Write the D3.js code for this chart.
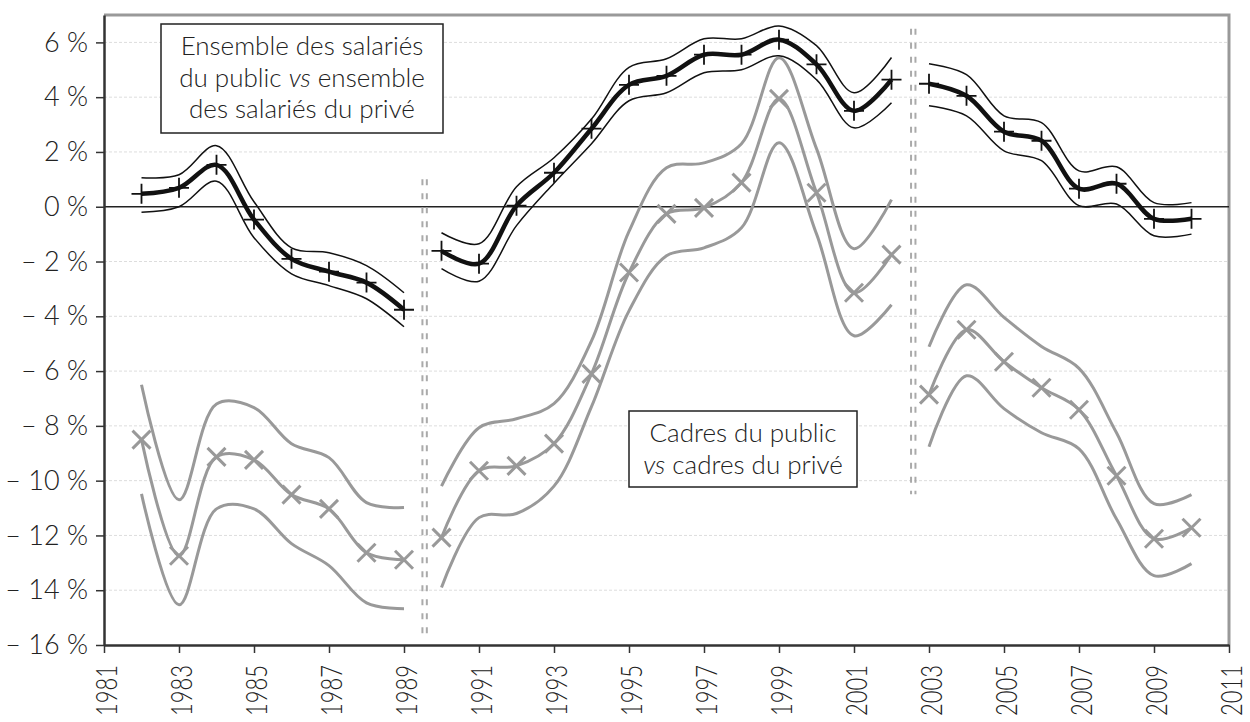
<!DOCTYPE html>
<html>
<head>
<meta charset="utf-8">
<script src="https://cdn.jsdelivr.net/npm/d3@7"></script>
<style>
  body { margin: 0; background: #fff; }
  svg text { font-family: Lato, "Open Sans", sans-serif; font-weight: 300; fill: #222; }
</style>
</head>
<body>
<div id="chart"></div>
<script>
// three periods, each drawn as its own set of lines
const segYears = [
  [1982, 1983, 1984, 1985, 1986, 1987, 1988, 1989],
  [1990, 1991, 1992, 1993, 1994, 1995, 1996, 1997, 1998, 1999, 2000, 2001, 2002],
  [2003, 2004, 2005, 2006, 2007, 2008, 2009, 2010]
];

// Ensemble des salariés du public vs privé (central estimate and band)
const ensMid = [
  [0.47, 0.69, 1.53, -0.47, -1.9, -2.37, -2.77, -3.76],
  [-1.61, -2.08, 0.04, 1.24, 2.85, 4.45, 4.78, 5.55, 5.55, 6.1, 5.2, 3.5, 4.64],
  [4.49, 4.05, 2.74, 2.41, 0.66, 0.84, -0.44, -0.44]
];
const ensUp = [
  [1.06, 1.17, 2.23, 0.18, -1.5, -1.68, -2.15, -3.14],
  [-0.95, -1.35, 0.73, 1.79, 3.2, 5.09, 5.4, 6.13, 6.13, 6.6, 5.88, 4.16, 5.45],
  [5.22, 4.82, 3.32, 3.07, 1.31, 1.46, 0.15, 0.15]
];
const ensLo = [
  [-0.2, 0.0, 0.93, -1.13, -2.45, -2.88, -3.36, -4.38],
  [-2.26, -2.72, -0.69, 0.86, 2.3, 3.87, 4.16, 4.89, 5.0, 5.51, 4.64, 2.88, 3.8],
  [3.69, 3.32, 2.04, 1.68, 0.04, 0.1, -1.06, -1.0]
];

// Cadres du public vs cadres du privé
const cadMid = [
  [-8.5, -12.74, -9.13, -9.24, -10.51, -11.03, -12.63, -12.89],
  [-12.08, -9.64, -9.46, -8.65, -6.1, -2.4, -0.26, -0.04, 0.88, 3.94, 0.51, -3.14, -1.75],
  [-6.86, -4.49, -5.66, -6.61, -7.41, -9.82, -12.12, -11.72]
];
const cadUp = [
  [-6.5, -10.7, -7.2, -7.33, -8.65, -9.16, -10.8, -10.98],
  [-10.2, -8.07, -7.74, -7.19, -4.9, -0.9, 1.42, 1.6, 2.3, 5.44, 2.12, -1.53, 0.26],
  [-5.11, -2.85, -4.04, -5.1, -5.9, -8.25, -10.84, -10.51]
];
const cadLo = [
  [-10.48, -14.53, -11.03, -11.03, -12.3, -13.1, -14.46, -14.68],
  [-13.9, -11.35, -11.2, -10.2, -7.3, -3.8, -1.79, -1.5, -0.77, 2.34, -0.99, -4.71, -3.58],
  [-8.76, -6.17, -7.37, -8.25, -8.84, -11.4, -13.47, -13.03]
];

const yTicks = d3.range(-16, 7, 2);
const xTicks = d3.range(1981, 2012, 2);
// series breaks: [year, top value, bottom value]
const breaks = [[1989.55, 1, -15.7], [2002.58, 6.5, -10.5]];

const W = 1250, H = 722;
const plot = {left: 104, right: 1229, top: 15, bottom: 645};

const x = d3.scaleLinear().domain([1981, 2011]).range([plot.left, plot.right]);
const y = d3.scaleLinear().domain([-16, 7]).range([plot.bottom, plot.top]);

const svg = d3.select("#chart").append("svg")
    .attr("width", W)
    .attr("height", H);

// gridlines
svg.append("g").selectAll("line")
  .data(yTicks.filter(d => d !== 0 && d !== -16))
  .enter().append("line")
    .attr("x1", plot.left).attr("x2", plot.right)
    .attr("y1", d => y(d)).attr("y2", d => y(d))
    .style("stroke", "#ddd")
    .style("stroke-width", 1)
    .style("stroke-dasharray", "3,2");

// top and right frame (grey)
svg.append("path")
  .attr("d", `M${plot.left},${plot.top}H${plot.right}V${plot.bottom}`)
  .style("fill", "none")
  .style("stroke", "#999")
  .style("stroke-width", 3);

// zero line
svg.append("line")
  .attr("x1", plot.left).attr("x2", plot.right)
  .attr("y1", y(0)).attr("y2", y(0))
  .style("stroke", "#222")
  .style("stroke-width", 1.5);

// y axis
const fmt = v => v < 0 ? "\u2013 " + Math.abs(v) + " %" : v + " %";
const yAxis = svg.append("g")
  .attr("transform", `translate(${plot.left},0)`)
  .call(d3.axisLeft(y).tickValues(yTicks).tickFormat(fmt).tickSize(8).tickPadding(8).tickSizeOuter(0));
yAxis.select(".domain").style("stroke", "#333").style("stroke-width", 2.5);
yAxis.selectAll(".tick line").style("stroke", "#333").style("stroke-width", 1.5);
yAxis.selectAll("text").style("font-size", "27px").style("fill", "#222");

// x axis, labels rotated and squeezed like the narrow original face
const xAxis = svg.append("g")
  .attr("transform", `translate(0,${plot.bottom})`)
  .call(d3.axisBottom(x).tickValues(xTicks).tickFormat(d3.format("d")).tickSize(8).tickSizeOuter(0));
xAxis.select(".domain").style("stroke", "#333").style("stroke-width", 2.5);
xAxis.selectAll(".tick line").style("stroke", "#333").style("stroke-width", 1.5);
xAxis.selectAll("text")
  .attr("transform", "rotate(-90)")
  .attr("x", -20)
  .attr("y", 0)
  .attr("dy", "0.42em")
  .attr("textLength", 51)
  .attr("lengthAdjust", "spacingAndGlyphs")
  .style("text-anchor", "end")
  .style("font-size", "30px")
  .style("fill", "#222");

// break markers: double dashed verticals
breaks.forEach(b => {
  [-2.2, 2.2].forEach(off => {
    svg.append("line")
      .attr("x1", x(b[0]) + off).attr("x2", x(b[0]) + off)
      .attr("y1", y(b[1])).attr("y2", y(b[2]))
      .style("stroke", "#aaa")
      .style("stroke-width", 2)
      .style("stroke-dasharray", "6,8");
  });
});

const line = d3.line()
  .x(d => x(d[0]))
  .y(d => y(d[1]))
  .curve(d3.curveCatmullRom.alpha(0.5));

const pts = (vals, s) => segYears[s].map((yr, i) => [yr, vals[s][i]]);

function drawLines(arr, color, width) {
  segYears.forEach((_, s) => {
    svg.append("path")
      .datum(pts(arr, s))
      .attr("d", line)
      .style("fill", "none")
      .style("stroke", color)
      .style("stroke-width", width)
      .style("stroke-linejoin", "round");
  });
}

// cadres (grey)
drawLines(cadUp, "#999", 3);
drawLines(cadLo, "#999", 3);
drawLines(cadMid, "#999", 3);
segYears.forEach((_, s) => {
  const m = 9;
  svg.append("g").selectAll("path")
    .data(pts(cadMid, s))
    .enter().append("path")
      .attr("d", d => `M${x(d[0]) - m},${y(d[1]) - m}L${x(d[0]) + m},${y(d[1]) + m}M${x(d[0]) - m},${y(d[1]) + m}L${x(d[0]) + m},${y(d[1]) - m}`)
      .style("stroke", "#999")
      .style("stroke-width", 3);
});

// ensemble (black)
drawLines(ensUp, "#111", 1.5);
drawLines(ensLo, "#111", 1.5);
drawLines(ensMid, "#111", 4.5);
segYears.forEach((_, s) => {
  const m = 10;
  svg.append("g").selectAll("path")
    .data(pts(ensMid, s))
    .enter().append("path")
      .attr("d", d => `M${x(d[0]) - m},${y(d[1])}H${x(d[0]) + m}M${x(d[0])},${y(d[1]) - m}V${y(d[1]) + m}`)
      .style("stroke", "#111")
      .style("stroke-width", 1.8);
});

// annotation boxes
function box(x0, y0, w, h, lines) {
  const g = svg.append("g");
  g.append("rect")
    .attr("x", x0).attr("y", y0).attr("width", w).attr("height", h)
    .style("fill", "#fff")
    .style("stroke", "#222")
    .style("stroke-width", 1.5);
  lines.forEach((parts, i) => {
    const t = g.append("text")
      .attr("x", x0 + w / 2)
      .attr("y", y0 + 31 + i * 31.5)
      .style("text-anchor", "middle")
      .style("font-size", "26px")
      .style("fill", "#222");
    parts.forEach(p => {
      t.append("tspan")
        .style("font-style", p.it ? "italic" : "normal")
        .text(p.t);
    });
  });
}

box(161, 24, 282, 109, [
  [{t: "Ensemble des salariés"}],
  [{t: "du public "}, {t: "vs", it: true}, {t: " ensemble"}],
  [{t: "des salariés du privé"}]
]);
box(629, 411, 228, 76, [
  [{t: "Cadres du public"}],
  [{t: "vs", it: true}, {t: " cadres du privé"}]
]);
</script>
</body>
</html>
